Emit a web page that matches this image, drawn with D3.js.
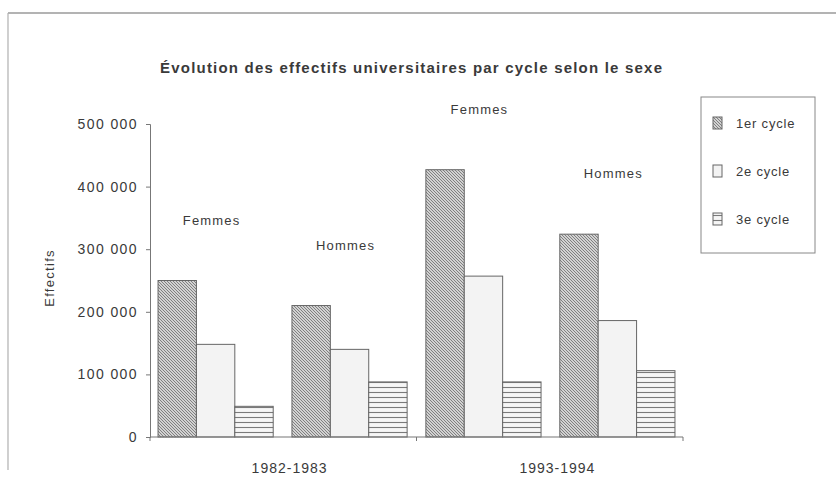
<!DOCTYPE html>
<html>
<head>
<meta charset="utf-8">
<script src="https://cdn.jsdelivr.net/npm/d3@7"></script>
<style>
  body { margin: 0; background: #fff; }
  text { font-family: "Liberation Sans", Arial, sans-serif; fill: #3a3a3a; }
</style>
</head>
<body>
<svg id="chart" width="836" height="498"></svg>
<script>
// data
var groupLabels = ["Femmes", "Hommes", "Femmes", "Hommes"];
var years = ["1982-1983", "1993-1994"];
var cycles = ["1er cycle", "2e cycle", "3e cycle"];
var cycle1 = [250000, 210000, 427000, 324000];
var cycle2 = [148000, 140000, 257000, 186000];
var cycle3 = [49000, 88000, 88000, 106000];
var yTicks = [0, 100000, 200000, 300000, 400000, 500000];

var series = [cycle1, cycle2, cycle3];

var vis = d3.select("#chart"),
WIDTH = 836,
HEIGHT = 498,
MARGINS = { top: 124, right: 153, bottom: 61, left: 150 };

var defs = vis.append("defs");

// 1er cycle: dense diagonal hatch
var p1 = defs.append("pattern")
    .attr("id", "hatch1")
    .attr("patternUnits", "userSpaceOnUse")
    .attr("width", 3).attr("height", 3);
p1.append("rect").attr("width", 3).attr("height", 3).attr("fill", "#d2d2d2");
p1.append("path")
    .attr("d", "M0,0 L3,3 M-1,2 L1,4 M2,-1 L4,1")
    .attr("stroke", "#777").attr("stroke-width", 0.9);

// 2e cycle: almost blank
var p2 = defs.append("pattern")
    .attr("id", "hatch2")
    .attr("patternUnits", "userSpaceOnUse")
    .attr("width", 4).attr("height", 4);
p2.append("rect").attr("width", 4).attr("height", 4).attr("fill", "#f3f3f3");

// 3e cycle: horizontal lines
var p3 = defs.append("pattern")
    .attr("id", "hatch3")
    .attr("patternUnits", "userSpaceOnUse")
    .attr("width", 5).attr("height", 5);
p3.append("rect").attr("width", 5).attr("height", 5).attr("fill", "#f6f6f6");
p3.append("line")
    .attr("x1", 0).attr("x2", 5).attr("y1", 2.5).attr("y2", 2.5)
    .attr("stroke", "#7a7a7a").attr("stroke-width", 1.1);

var fills = ["url(#hatch1)", "url(#hatch2)", "url(#hatch3)"];

// outer frame (only top and left edges show in the scan)
vis.append("line")
    .attr("x1", 8).attr("x2", WIDTH).attr("y1", 13).attr("y2", 13)
    .attr("stroke", "#9a9a9a").attr("stroke-width", 1.5);
vis.append("line")
    .attr("x1", 8).attr("x2", 8).attr("y1", 13).attr("y2", 470)
    .attr("stroke", "#b0b0b0").attr("stroke-width", 1.2);

var xScale = d3.scaleBand()
    .domain(d3.range(groupLabels.length))
    .range([MARGINS.left, WIDTH - MARGINS.right])
    .paddingInner(0.14)
    .paddingOuter(0.06);

var xInner = d3.scaleBand()
    .domain(cycles)
    .range([0, xScale.bandwidth()]);

var yScale = d3.scaleLinear()
    .domain([0, 500000])
    .range([HEIGHT - MARGINS.bottom, MARGINS.top]);

var fmt = function (d) { return d3.format(",")(d).replace(/,/g, " "); };

// y axis
var yAxis = d3.axisLeft(yScale)
    .tickValues(yTicks)
    .tickFormat(fmt)
    .tickSize(4)
    .tickPadding(8);

var gy = vis.append("g")
    .attr("transform", "translate(" + MARGINS.left + ",0)")
    .call(yAxis);
gy.select(".domain").attr("stroke", "#777");
gy.selectAll(".tick line").attr("stroke", "#777");
gy.selectAll(".tick text")
    .style("font-size", "14px")
    .style("letter-spacing", "1.4px")
    .attr("fill", "#505050");

// bars
var bars = vis.append("g");
series.forEach(function (vals, s) {
    bars.selectAll(".bar" + s)
        .data(vals)
        .enter().append("rect")
        .attr("x", function (d, i) { return xScale(i) + xInner(cycles[s]); })
        .attr("y", function (d) { return yScale(d); })
        .attr("width", xInner.bandwidth())
        .attr("height", function (d) { return yScale(0) - yScale(d); })
        .attr("fill", fills[s])
        .attr("stroke", "#666")
        .attr("stroke-width", 1);
});

// x axis baseline with ticks between the two years
vis.append("line")
    .attr("x1", MARGINS.left).attr("x2", WIDTH - MARGINS.right)
    .attr("y1", yScale(0)).attr("y2", yScale(0))
    .attr("stroke", "#777").attr("stroke-width", 1.2);

var mid = (xScale(1) + xScale.bandwidth() + xScale(2)) / 2;
[MARGINS.left, mid, WIDTH - MARGINS.right].forEach(function (x) {
    vis.append("line")
        .attr("x1", x).attr("x2", x)
        .attr("y1", yScale(0)).attr("y2", yScale(0) + 4)
        .attr("stroke", "#777");
});

// year labels under each pair of groups
vis.selectAll(".year")
    .data(years)
    .enter().append("text")
    .attr("x", function (d, i) {
        return (xScale(2 * i) + xScale(2 * i + 1) + xScale.bandwidth()) / 2 + 7;
    })
    .attr("y", yScale(0) + 36)
    .attr("text-anchor", "middle")
    .style("font-size", "14px")
    .style("letter-spacing", "1px")
    .text(function (d) { return d; });

// Femmes / Hommes annotations above each group
vis.selectAll(".glabel")
    .data(groupLabels)
    .enter().append("text")
    .attr("x", function (d, i) { return xScale(i) + xScale.bandwidth() / 2 - 4; })
    .attr("y", function (d, i) { return yScale(cycle1[i]) - 56; })
    .attr("text-anchor", "middle")
    .style("font-size", "13px")
    .style("letter-spacing", "1.2px")
    .text(function (d) { return d; });

// title
vis.append("text")
    .attr("x", 411)
    .attr("y", 73)
    .attr("text-anchor", "middle")
    .attr("textLength", 502)
    .attr("lengthAdjust", "spacing")
    .style("font-size", "15px")
    .style("font-weight", "bold")
    .attr("fill", "#333")
    .text("Évolution des effectifs universitaires par cycle selon le sexe");

// y axis title
vis.append("text")
    .attr("transform", "rotate(-90)")
    .attr("x", -278)
    .attr("y", 54)
    .attr("text-anchor", "middle")
    .style("font-size", "13px")
    .style("letter-spacing", "1.3px")
    .attr("fill", "#333")
    .text("Effectifs");

// legend
var legend = vis.append("g").attr("transform", "translate(701,97)");
legend.append("rect")
    .attr("width", 114).attr("height", 156)
    .attr("fill", "#fff")
    .attr("stroke", "#888").attr("stroke-width", 1);

var items = legend.selectAll(".item")
    .data(cycles)
    .enter().append("g")
    .attr("transform", function (d, i) { return "translate(12," + (20 + i * 48) + ")"; });
items.append("rect")
    .attr("width", 9).attr("height", 12)
    .attr("fill", function (d, i) { return fills[i]; })
    .attr("stroke", "#666");
items.append("text")
    .attr("x", 23)
    .attr("y", 11)
    .style("font-size", "13px")
    .style("letter-spacing", "0.8px")
    .text(function (d) { return d; });
</script>
</body>
</html>
